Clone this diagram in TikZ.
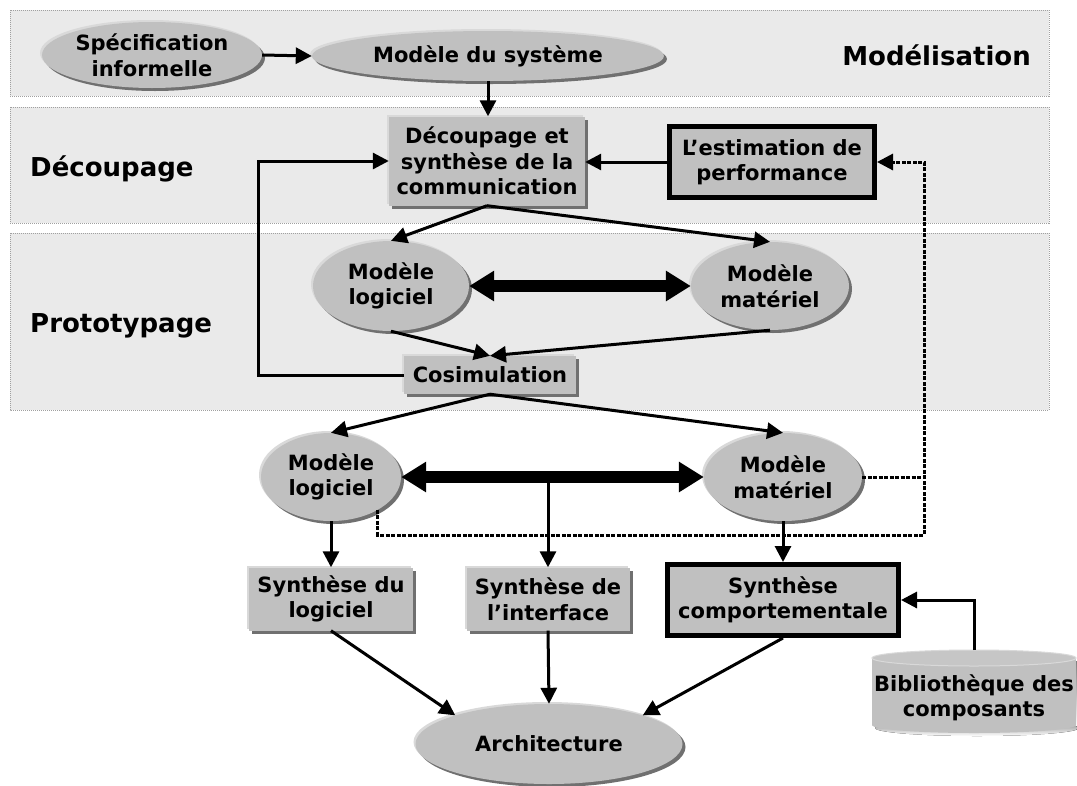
\documentclass[tikz,border=0pt]{standalone}
\usepackage{fontspec}
\setmainfont{DejaVu Sans}
\usetikzlibrary{arrows.meta,shadows,shapes.geometric,calc}
\definecolor{band}{HTML}{EAEAEA}
\definecolor{bandline}{HTML}{A0A0A0}
\definecolor{nodefill}{HTML}{C0C0C0}
\definecolor{rim}{HTML}{D9D9D9}
\definecolor{shade}{HTML}{707070}
\begin{document}
\begin{tikzpicture}[x=1pt,y=-1pt,
  every node/.style={font=\bfseries\fontsize{21}{25.5}\selectfont, align=center, inner sep=0pt, text=black},
  bandbox/.style={fill=band, draw=bandline, line width=0.6pt, dash pattern=on 1pt off 1pt},
  lbl/.style={font=\bfseries\fontsize{26}{30}\selectfont},
  withshadow/.style={general shadow={shadow xshift=-2pt, shadow yshift=2pt, fill=rim},
                     general shadow={shadow xshift=3pt, shadow yshift=-3pt, fill=shade}},
  nell/.style={ellipse, fill=nodefill, withshadow},
  nbox/.style={rectangle, fill=nodefill, withshadow},
  tbox/.style={rectangle, fill=nodefill, draw=black, line width=5pt},
  arr/.style={line width=3pt, -{Triangle[length=16pt,width=16pt]}},
  bigarr/.style={line width=12pt, {Triangle[length=25pt,width=29pt]}-{Triangle[length=25pt,width=29pt]}},
  dotarr/.style={line width=3pt, dash pattern=on 4pt off 1.5pt},
]
\fill[white] (0,0) rectangle (1077,785);
\useasboundingbox (0,0) rectangle (1077,785);

% bands
\draw[bandbox] (10,10) rectangle (1049,96);
\draw[bandbox] (10,107) rectangle (1049,223);
\draw[bandbox] (10,233) rectangle (1049,410);

\node[lbl, anchor=base east] (lmod) at (1031,65) {Modélisation};
\node[lbl, anchor=base west] (ldec) at (30,176) {Découpage};
\node[lbl, anchor=base west] (lpro) at (30,332) {Prototypage};

% nodes
\node[nell, minimum width=220, minimum height=66] (spec) at (152,55) {Spécification\\informelle};
\node[nell, minimum width=352, minimum height=50] (sys) at (488,56) {Modèle du système};
\node[nbox, minimum width=196, minimum height=89] (dec) at (487,161) {Découpage et\\synthèse de la\\communication};
\node[tbox, minimum width=205, minimum height=71] (est) at (772,162) {L’estimation de\\performance};
\node[nell, minimum width=156, minimum height=90] (ml1) at (391,286) {Modèle\\logiciel};
\node[nell, minimum width=158, minimum height=88] (mm1) at (770,286) {Modèle\\matériel};
\node[nbox, minimum width=172, minimum height=38] (cosim) at (490,375) {Cosimulation};
\node[nell, minimum width=140, minimum height=88] (ml2) at (331,477) {Modèle\\logiciel};
\node[nell, minimum width=158, minimum height=88] (mm2) at (783,477) {Modèle\\matériel};
\node[nbox, minimum width=164, minimum height=63] (sl) at (331,599) {Synthèse du\\logiciel};
\node[nbox, minimum width=163, minimum height=63] (si) at (548,599) {Synthèse de\\l’interface};
\node[tbox, minimum width=231, minimum height=71] (sc) at (783,600) {Synthèse\\comportementale};
\node[nell, minimum width=267, minimum height=80] (arch) at (549,744) {Architecture};

% cylinder
\begin{scope}[shift={(3,3)}]
  \fill[shade] (872,658) rectangle (1076,725);
  \fill[shade] (974,725) ellipse [x radius=102, y radius=8];
\end{scope}
\fill[nodefill] (872,658) rectangle (1076,725);
\fill[nodefill] (974,725) ellipse [x radius=102, y radius=8];
\filldraw[fill=nodefill!90!white, draw=rim, line width=1pt] (974,658) ellipse [x radius=102, y radius=8];
\node (lib) at (974,698) {Bibliothèque des\\composants};
\coordinate (libtop) at (974,650);

% connectors
\draw[arr] (spec.east) -- (sys.west);
\draw[arr] (sys.south) -- (sys.south |- dec.north);
\draw[arr] (est.west) -- (est.west -| dec.east);
\coordinate (lp) at (258,270);
\draw[arr] (cosim.west) -| (lp) |- (dec.west);
\draw[arr] (dec.south) -- (ml1.north);
\draw[arr] (dec.south) -- (mm1.north);
\draw[bigarr] (ml1.east) -- (mm1.west);
\draw[arr] (ml1.south) -- (cosim.north);
\draw[arr] (mm1.south) -- (cosim.north);
\draw[arr] (cosim.south) -- (ml2.north);
\draw[arr] (cosim.south) -- (mm2.north);
\draw[arr] (ml2.east -| si.north) -- (si.north);
\draw[bigarr] (ml2.east) -- (mm2.west);
\draw[arr] (ml2.south) -- (sl.north);
\draw[arr] (mm2.south) -- (sc.north);
\draw[arr] (sl.south) -- (arch.163);
\draw[arr] (si.south) -- (arch.north);
\draw[arr] (sc.south) -- (arch.17);
\draw[arr] (libtop) |- (sc.east);

% dotted feedback
\coordinate (dc) at (924,535);
\draw[dotarr, -{Triangle[length=16pt,width=16pt]}] (ml2.-35) |- (dc) |- (est.east);
\draw[dotarr] (mm2.east) -- (mm2.east -| dc);
\end{tikzpicture}
\end{document}
